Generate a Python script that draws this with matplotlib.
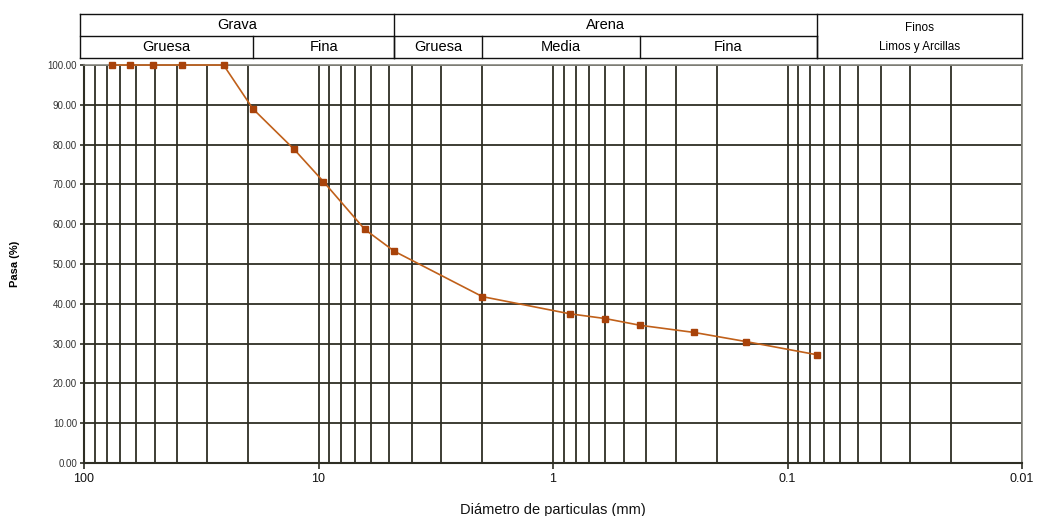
import matplotlib
matplotlib.use("Agg")
import matplotlib.pyplot as plt
from matplotlib.ticker import LogLocator, FixedLocator, FuncFormatter
import numpy as np

plt.rcParams['font.family'] = ['Liberation Sans', 'DejaVu Sans']

# Data: sieve sizes (mm) and percent passing
diam_mm = [76.2, 63.5, 50.8, 38.1, 25.4, 19.05, 12.7, 9.525, 6.35, 4.75,
           2.0, 0.85, 0.6, 0.425, 0.25, 0.15, 0.075]
pasa = [100.0, 100.0, 100.0, 100.0, 100.0, 89.0, 78.8, 70.7, 58.7, 53.2,
        41.8, 37.5, 36.3, 34.6, 32.8, 30.5, 27.2]

# Header classification table
top_labels = ["Grava", "Arena"]
top_bounds = [(104, 4.75), (4.75, 0.075)]
sub_labels = ["Gruesa", "Fina", "Gruesa", "Media", "Fina"]
sub_bounds = [(104, 19.0), (19.0, 4.75), (4.75, 2.0), (2.0, 0.425), (0.425, 0.075)]
finos_bounds = (0.075, 0.01)
finos_labels = ["Finos", "Limos y Arcillas"]

x_ticks = [100, 10, 1, 0.1, 0.01]
x_tick_labels = ["100", "10", "1", "0.1", "0.01"]
y_ticks = list(range(0, 101, 10))

W, H = 1040, 516
fig = plt.figure(figsize=(W / 100, H / 100), dpi=100)
ax = fig.add_axes([84 / W, 1 - 463 / H, (1022 - 84) / W, (463 - 65) / H])

ax.set_xscale('log')
ax.set_xlim(100, 0.01)
ax.set_ylim(0, 100)

gcol = '#2e2e24'
ax.xaxis.set_major_locator(FixedLocator(x_ticks))
ax.xaxis.set_minor_locator(LogLocator(base=10, subs=np.arange(2, 10)))
ax.xaxis.set_major_formatter(FuncFormatter(lambda v, p: x_tick_labels[x_ticks.index(v)] if v in x_ticks else ""))
ax.xaxis.set_minor_formatter(FuncFormatter(lambda v, p: ""))
ax.set_yticks(y_ticks)
ax.yaxis.set_major_formatter(FuncFormatter(lambda v, p: f"{v:.2f}"))

ax.grid(True, which='both', axis='x', color=gcol, lw=1.3)
ax.grid(True, which='major', axis='y', color=gcol, lw=1.3)
ax.set_axisbelow(True)

ax.tick_params(axis='x', which='major', length=4, width=1.2, labelsize=9, colors=gcol, labelcolor='#111111', pad=3)
ax.tick_params(axis='x', which='minor', length=0)
ax.tick_params(axis='y', which='major', length=3, width=1.2, labelsize=7, colors=gcol, labelcolor='#333333', pad=2)

for side in ['left', 'bottom']:
    ax.spines[side].set_color(gcol)
    ax.spines[side].set_linewidth(1.5)
for side in ['right', 'top']:
    ax.spines[side].set_color('#888880')
    ax.spines[side].set_linewidth(1.2)

ax.plot(diam_mm, pasa, color='#c0601a', lw=1.2, marker='s', markersize=4,
        markerfacecolor='#a8420a', markeredgecolor='#a8420a', clip_on=False, zorder=5)

ax.set_xlabel("Diámetro de particulas (mm)", fontsize=10.5, labelpad=13, color='#111111')
ax.set_ylabel("Pasa (%)", fontsize=8, fontweight='bold', labelpad=20)

# Header table
tr = ax.get_xaxis_transform()
y_top, y_mid, y_bot = (463 - 14) / 398, (463 - 36) / 398, (463 - 58) / 398
lkw = dict(transform=tr, color='#111111', lw=1.0, clip_on=False)
ax.plot([104, 0.01], [y_top, y_top], **lkw)
ax.plot([104, 0.01], [y_bot, y_bot], **lkw)
ax.plot([104, 0.075], [y_mid, y_mid], **lkw)
ax.plot([104, 104], [y_bot, y_top], **lkw)
ax.plot([0.01, 0.01], [y_bot, y_top], **lkw)
for (a, b), lab in zip(top_bounds, top_labels):
    ax.plot([b, b], [y_bot, y_top], **lkw)
    xm = np.sqrt(a * b)
    ax.text(xm, (y_top + y_mid) / 2, lab, transform=tr, ha='center', va='center', fontsize=10.5)
for (a, b), lab in zip(sub_bounds, sub_labels):
    ax.plot([b, b], [y_bot, y_mid], **lkw)
    xm = np.sqrt(a * b)
    ax.text(xm, (y_mid + y_bot) / 2, lab, transform=tr, ha='center', va='center', fontsize=10.5)
xf = np.sqrt(finos_bounds[0] * finos_bounds[1])
ax.text(xf, (463 - 28) / 398, finos_labels[0], transform=tr, ha='center', va='center', fontsize=8.5)
ax.text(xf, (463 - 47) / 398, finos_labels[1], transform=tr, ha='center', va='center', fontsize=8.5)

fig.savefig("out.png", dpi=100)
